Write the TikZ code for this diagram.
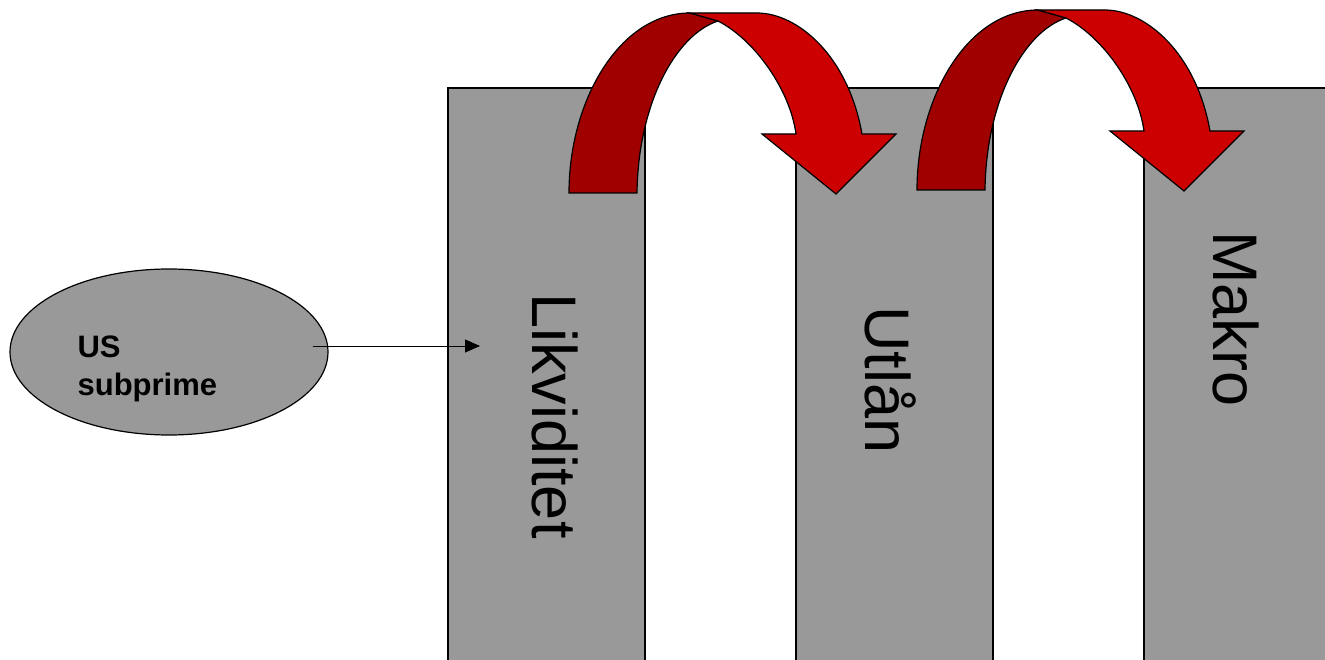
\documentclass[tikz,border=0pt]{standalone}
\usepackage{fontspec}
\setmainfont{Liberation Sans}
\usetikzlibrary{arrows.meta}
\usetikzlibrary{positioning}
\usetikzlibrary{shapes.geometric}
\definecolor{bargray}{HTML}{999999}
\definecolor{backred}{HTML}{A00000}
\definecolor{frontred}{HTML}{CC0000}

\begin{document}
\begin{tikzpicture}[x=1pt,y=-1pt,>={Triangle[length=15pt,width=13pt]},
                    line width=1.2pt,node distance=151pt,
                    bar/.style={rectangle,draw,fill=bargray,minimum width=197pt,
                                minimum height=600pt,inner sep=0pt,outer sep=0pt},
                    bar text/.style={rotate=-90,anchor=base,font=\fontsize{63}{70}\selectfont},
                    curl/.pic={
                      \filldraw[fill=backred] (569,193) .. controls (569,100) and (620,13) .. (690,13)
                        -- (718,21) .. controls (675,35) and (638,105) .. (637,193) -- cycle;
                      \filldraw[fill=frontred] (690,13) -- (757,13)
                        .. controls (797,13) and (848,55) .. (862,134)
                        -- (896,134) -- (836,194) -- (762,134) -- (796,134)
                        .. controls (790,90) and (755,40) .. (718,21) -- cycle;
                    }]

  \useasboundingbox (0,0) rectangle (1325,660);
  \clip (0,0) rectangle (1325,660);

  \node[bar,anchor=north west] (likv) at (448,88) {};
  \node[bar] (utlan) [right=of likv] {};
  \node[bar] (makro) [right=of utlan] {};

  \pic at (0,0) {curl};
  \pic at (348,-3) {curl};

  \node[bar text] (likvtext) at (532,416) {Likviditet};
  \node[bar text] (utlantext) at (865,380) {Utlån};
  \node[bar text] (makrotext) at (1213,319) {Makro};

  \node[ellipse,draw,fill=bargray,minimum width=318pt,minimum height=166pt,
        inner sep=0pt] (subprime) at (169,352) {};
  \node[anchor=north west,align=left,inner sep=0pt,
        font=\bfseries\fontsize{31}{38}\selectfont] (sublabel) at (77,335) {US\\subprime};

  \coordinate (entry) at (480,346);
  \draw[->,line width=1pt] ([xshift=-16pt,yshift=6pt]subprime.east) -- (entry);
\end{tikzpicture}
\end{document}
